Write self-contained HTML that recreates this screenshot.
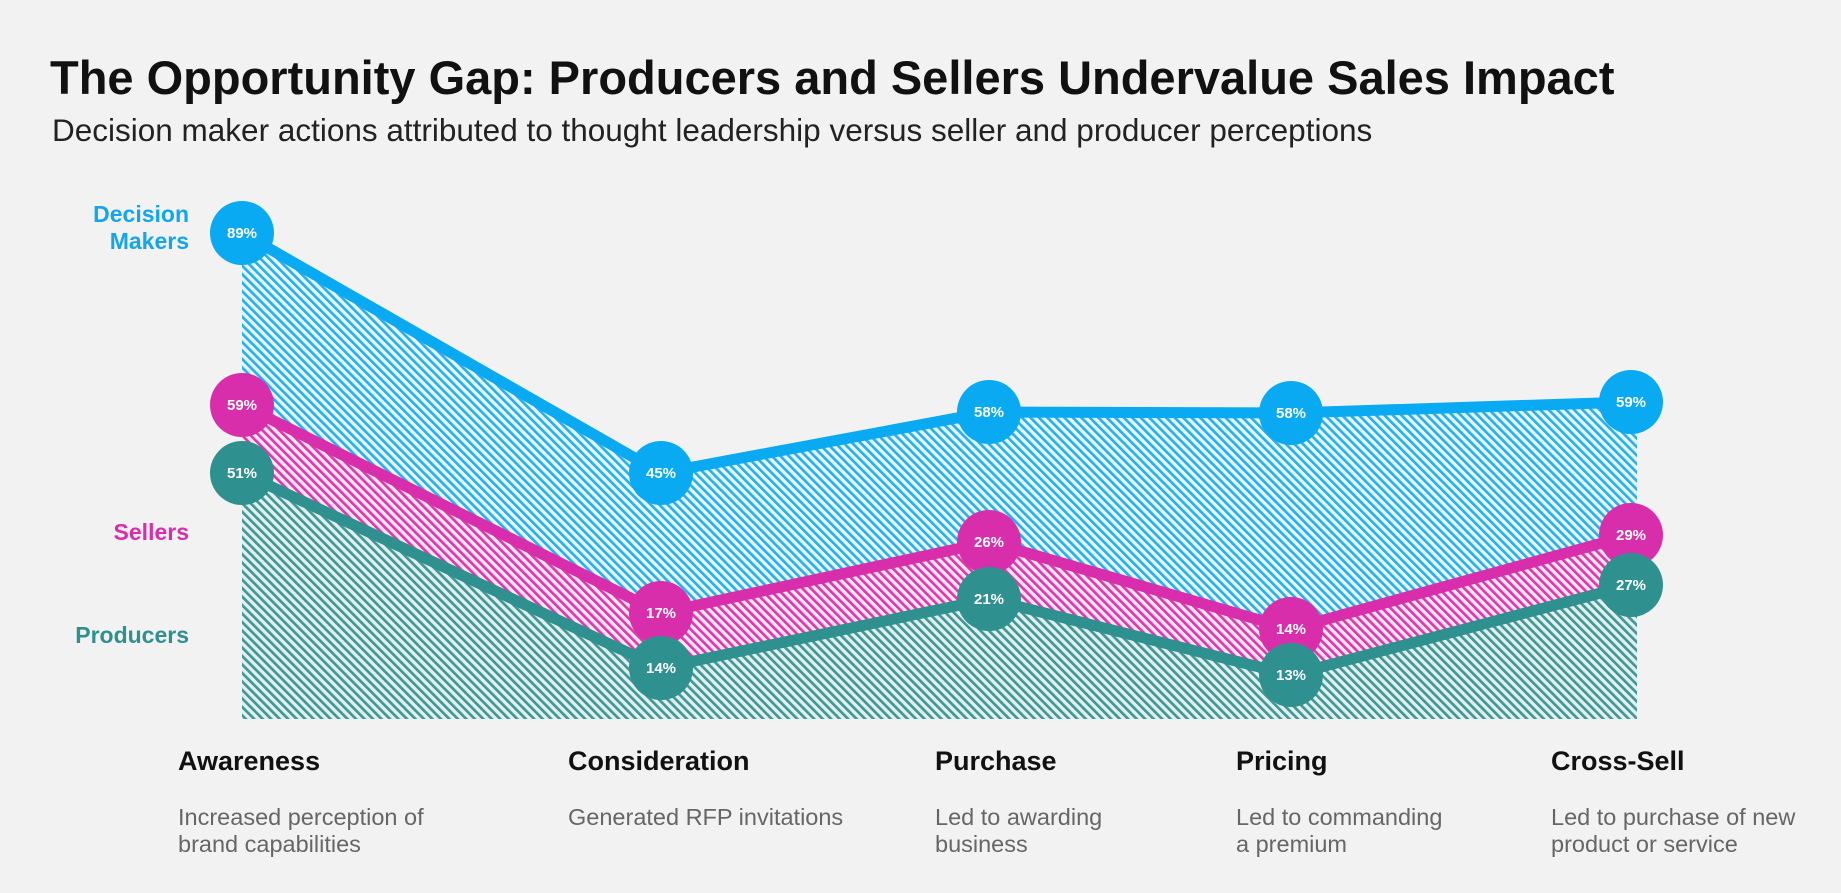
<!DOCTYPE html>
<html><head><meta charset="utf-8"><style>
html,body{margin:0;padding:0;background:#f2f2f2;}
body{width:1841px;height:893px;overflow:hidden;position:relative;font-family:"Liberation Sans",Arial,sans-serif;}
</style></head><body>
<svg width="1841" height="893" viewBox="0 0 1841 893" xmlns="http://www.w3.org/2000/svg" style="position:absolute;left:0;top:0">
<defs>
<pattern id="pb" width="6" height="6" patternUnits="userSpaceOnUse" patternTransform="rotate(-45)">
<rect width="6" height="6" fill="#e8f6fd"/><rect width="2.7" height="6" fill="#28b0ee"/></pattern>
<pattern id="pm" width="6" height="6" patternUnits="userSpaceOnUse" patternTransform="rotate(-45)">
<rect width="6" height="6" fill="#fbe6f4"/><rect width="2.7" height="6" fill="#dd38ae"/></pattern>
<pattern id="pt" width="6" height="6" patternUnits="userSpaceOnUse" patternTransform="rotate(-45)">
<rect width="6" height="6" fill="#e4f0f0"/><rect width="2.7" height="6" fill="#3f9896"/></pattern>
</defs>
<text x="50" y="94" font-size="47" font-weight="bold" fill="#111">The Opportunity Gap: Producers and Sellers Undervalue Sales Impact</text>
<text x="52" y="141" font-size="31.5" fill="#222">Decision maker actions attributed to thought leadership versus seller and producer perceptions</text>

<polygon points="242,233 661,473 989,412 1291,413 1637,402 1637,719 242,719" fill="url(#pb)"/>
<polygon points="242,405 661,613 989,542 1291,629 1637,535 1637,719 242,719" fill="url(#pm)"/>
<polygon points="242,473 661,668 989,599 1291,675 1637,585 1637,719 242,719" fill="url(#pt)"/>

<g fill="none" stroke-width="11" stroke-linejoin="round">
<polyline points="242,233 661,473 989,412 1291,413 1631,402" stroke="#0aaaf2"/>
<polyline points="242,405 661,613 989,542 1291,629 1631,535" stroke="#d92eab"/>
<polyline points="242,473 661,668 989,599 1291,675 1631,585" stroke="#2e918f"/>
</g>
<g font-size="15" font-weight="bold" fill="#fff" text-anchor="middle">
<circle cx="242" cy="233" r="32" fill="#0aaaf2"/><text x="242" y="238">89%</text>
<circle cx="661" cy="473" r="32" fill="#0aaaf2"/><text x="661" y="478">45%</text>
<circle cx="989" cy="412" r="32" fill="#0aaaf2"/><text x="989" y="417">58%</text>
<circle cx="1291" cy="413" r="32" fill="#0aaaf2"/><text x="1291" y="418">58%</text>
<circle cx="1631" cy="402" r="32" fill="#0aaaf2"/><text x="1631" y="407">59%</text>
<circle cx="242" cy="405" r="32" fill="#d92eab"/><text x="242" y="410">59%</text>
<circle cx="661" cy="613" r="32" fill="#d92eab"/><text x="661" y="618">17%</text>
<circle cx="989" cy="542" r="32" fill="#d92eab"/><text x="989" y="547">26%</text>
<circle cx="1291" cy="629" r="32" fill="#d92eab"/><text x="1291" y="634">14%</text>
<circle cx="1631" cy="535" r="32" fill="#d92eab"/><text x="1631" y="540">29%</text>
<circle cx="242" cy="473" r="32" fill="#2e918f"/><text x="242" y="478">51%</text>
<circle cx="661" cy="668" r="32" fill="#2e918f"/><text x="661" y="673">14%</text>
<circle cx="989" cy="599" r="32" fill="#2e918f"/><text x="989" y="604">21%</text>
<circle cx="1291" cy="675" r="32" fill="#2e918f"/><text x="1291" y="680">13%</text>
<circle cx="1631" cy="585" r="32" fill="#2e918f"/><text x="1631" y="590">27%</text>
</g>
<g font-size="23" font-weight="bold" text-anchor="end">
<text x="189" y="222" fill="#13a6ee">Decision</text>
<text x="189" y="249" fill="#13a6ee">Makers</text>
<text x="189" y="540" fill="#d92eab">Sellers</text>
<text x="189" y="643" fill="#2e918f">Producers</text>
</g>
<g font-size="27" font-weight="bold" fill="#111">
<text x="178" y="770">Awareness</text>
<text x="568" y="770">Consideration</text>
<text x="935" y="770">Purchase</text>
<text x="1236" y="770">Pricing</text>
<text x="1551" y="770">Cross-Sell</text>
</g>
<g font-size="23.5" fill="#666">
<text x="178" y="825">Increased perception of</text><text x="178" y="852">brand capabilities</text>
<text x="568" y="825">Generated RFP invitations</text>
<text x="935" y="825">Led to awarding</text><text x="935" y="852">business</text>
<text x="1236" y="825">Led to commanding</text><text x="1236" y="852">a premium</text>
<text x="1551" y="825">Led to purchase of new</text><text x="1551" y="852">product or service</text>
</g>
</svg>
</body></html>
